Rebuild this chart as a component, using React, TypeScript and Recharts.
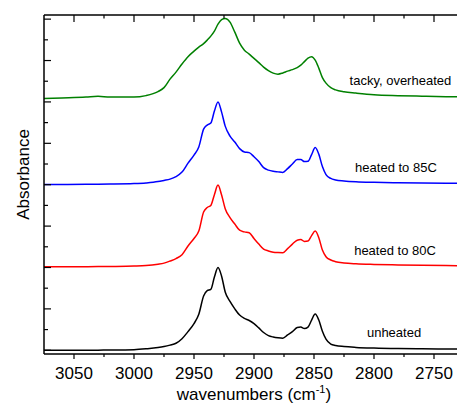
import React from 'react';
import { LineChart, Line, XAxis, YAxis, ReferenceDot } from 'recharts';

const wavenumbers = [
  3075, 3060, 3040, 3030, 3020, 3000, 2990, 2980, 2975, 2970, 2965, 2960, 2955, 2950,
  2946, 2942, 2939, 2936, 2933, 2930, 2927, 2924, 2920, 2916, 2912, 2908, 2904, 2900,
  2896, 2892, 2888, 2884, 2880, 2876, 2872, 2868, 2864, 2861, 2858, 2855, 2852, 2849,
  2846, 2843, 2840, 2836, 2832, 2825, 2815, 2800, 2780, 2760, 2740, 2725,
];

const unheated = [
  0.0, 0.0, 0.0, 0.003, 0.005, 0.015, 0.035, 0.065, 0.09, 0.125, 0.17, 0.28, 0.45, 0.645,
  0.87, 1.31, 1.44, 1.47, 1.77, 2.0, 1.79, 1.41, 1.18, 1.0, 0.85, 0.77, 0.72, 0.645,
  0.54, 0.43, 0.355, 0.32, 0.3, 0.29, 0.37, 0.45, 0.55, 0.56, 0.525, 0.56, 0.73, 0.875,
  0.73, 0.46, 0.27, 0.15, 0.115, 0.09, 0.07, 0.053, 0.04, 0.034, 0.03, 0.027,
];

const heated80 = [
  2.015, 2.017, 2.02, 2.022, 2.025, 2.034, 2.046, 2.08, 2.106, 2.155, 2.215, 2.31, 2.52, 2.7,
  2.88, 3.34, 3.45, 3.5, 3.76, 3.99, 3.75, 3.42, 3.205, 3.05, 2.9, 2.86, 2.84, 2.7,
  2.565, 2.445, 2.4, 2.37, 2.36, 2.357, 2.455, 2.565, 2.66, 2.675, 2.63, 2.64, 2.77, 2.88,
  2.72, 2.42, 2.26, 2.18, 2.14, 2.11, 2.09, 2.075, 2.063, 2.053, 2.046, 2.044,
];

const heated85 = [
  4.005, 4.007, 4.01, 4.012, 4.015, 4.027, 4.043, 4.075, 4.104, 4.135, 4.196, 4.304, 4.52, 4.715,
  4.91, 5.343, 5.44, 5.488, 5.778, 6.0, 5.754, 5.415, 5.174, 5.03, 4.872, 4.792, 4.775, 4.674,
  4.558, 4.413, 4.353, 4.324, 4.31, 4.297, 4.39, 4.5, 4.606, 4.606, 4.558, 4.565, 4.727, 4.896,
  4.739, 4.437, 4.244, 4.152, 4.116, 4.092, 4.072, 4.058, 4.048, 4.041, 4.036, 4.034,
];

const tackyOverheated = [
  6.085, 6.097, 6.116, 6.135, 6.116, 6.116, 6.152, 6.249, 6.345, 6.55, 6.72, 6.918, 7.094, 7.227,
  7.324, 7.408, 7.493, 7.589, 7.71, 7.88, 7.988, 8.017, 7.928, 7.686, 7.42, 7.251, 7.155, 7.051,
  6.95, 6.841, 6.756, 6.696, 6.671, 6.7, 6.744, 6.78, 6.829, 6.889, 6.973, 7.058, 7.094, 7.01,
  6.816, 6.587, 6.454, 6.345, 6.29, 6.244, 6.213, 6.174, 6.152, 6.138, 6.126, 6.121,
];

const xMajorTicks = [2750, 2800, 2850, 2900, 2950, 3000, 3050];
const xMinorTicks = [2775, 2825, 2875, 2925, 2975, 3025];
const yMajorTicks = [0, 1, 2, 3, 4, 5, 6, 7, 8];
const yMinorTicks = [0.5, 1.5, 2.5, 3.5, 4.5, 5.5, 6.5, 7.5];

const annotations = [
  { label: 'tacky, overheated', x: 2778, y: 6.53 },
  { label: 'heated to 85C', x: 2781.7, y: 4.43 },
  { label: 'heated to 80C', x: 2782.5, y: 2.42 },
  { label: 'unheated', x: 2783.3, y: 0.44 },
];

const data = wavenumbers.map((wn, i) => ({
  wn,
  unheated: unheated[i],
  heated80: heated80[i],
  heated85: heated85[i],
  tacky: tackyOverheated[i],
}));

const FONT = '"Liberation Sans", Arial, Helvetica, sans-serif';
const xTicks = [...xMajorTicks, ...xMinorTicks].sort((a, b) => a - b);
const yTicks = [...yMajorTicks, ...yMinorTicks].sort((a, b) => a - b);

const BottomTick = (props: any) => {
  const { x, y, payload } = props;
  const major = xMajorTicks.includes(payload.value);
  return (
    <g>
      <line x1={x} x2={x} y1={y} y2={y + (major ? 5 : 3)} stroke="#000" strokeWidth={1.2} />
      {major && (
        <text x={x} y={y + 25} textAnchor="middle" fontSize={17} fontFamily={FONT} fill="#000">
          {payload.value}
        </text>
      )}
    </g>
  );
};

const TopTick = (props: any) => {
  const { x, y, payload } = props;
  const major = xMajorTicks.includes(payload.value);
  return <line x1={x} x2={x} y1={y} y2={y + (major ? 7 : 3.5)} stroke="#000" strokeWidth={1.2} />;
};

const LeftTick = (props: any) => {
  const { x, y, payload } = props;
  const major = yMajorTicks.includes(payload.value);
  return <line x1={x} x2={x + (major ? 7 : 4)} y1={y} y2={y} stroke="#000" strokeWidth={1.2} />;
};

const YLabel = (props: any) => {
  const vb = props.viewBox;
  const cx = vb.x + 23;
  const cy = vb.y + vb.height / 2 - 10;
  return (
    <text
      x={cx}
      y={cy}
      transform={`rotate(-90 ${cx} ${cy})`}
      textAnchor="middle"
      dominantBaseline="central"
      fontSize={17}
      fontFamily={FONT}
      fill="#000"
    >
      Absorbance
    </text>
  );
};

const XLabel = (props: any) => {
  const vb = props.viewBox;
  const cx = vb.x + vb.width / 2;
  const cy = vb.y + 46;
  return (
    <text x={cx} y={cy} textAnchor="middle" fontSize={17} fontFamily={FONT} fill="#000">
      wavenumbers (cm
      <tspan dy={-7} fontSize={11}>-1</tspan>
      <tspan dy={7}>)</tspan>
    </text>
  );
};

const axisLine = { stroke: '#000', strokeWidth: 1.5 };

export default function App() {
  return (
    <div style={{ position: 'fixed', left: 0, top: 0, width: 457, height: 405, overflow: 'hidden', background: '#fff' }}>
      <LineChart width={464} height={405} data={data} margin={{ top: 0, right: 0, bottom: 0, left: 0 }} style={{ fontFamily: FONT }}>
        <XAxis
          xAxisId="bottom"
          dataKey="wn"
          type="number"
          domain={[2725, 3075]}
          allowDataOverflow
          reversed
          ticks={xTicks}
          interval={0}
          tick={BottomTick}
          tickLine={false}
          tickSize={0}
          tickMargin={0}
          axisLine={axisLine}
          height={51}
          label={XLabel}
        />
        <XAxis
          xAxisId="top"
          orientation="top"
          dataKey="wn"
          type="number"
          domain={[2725, 3075]}
          allowDataOverflow
          reversed
          ticks={xTicks}
          interval={0}
          tick={TopTick}
          tickLine={false}
          tickSize={0}
          tickMargin={0}
          axisLine={axisLine}
          height={15}
        />
        <YAxis
          yAxisId="left"
          type="number"
          domain={[-0.09, 8.1]}
          allowDataOverflow
          ticks={yTicks}
          interval={0}
          tick={LeftTick}
          tickLine={false}
          tickSize={0}
          tickMargin={0}
          axisLine={axisLine}
          width={44}
          label={YLabel}
        />
        <Line xAxisId="bottom" yAxisId="left" type="monotone" dataKey="unheated" stroke="#000000" strokeWidth={1.5} dot={false} isAnimationActive={false} />
        <Line xAxisId="bottom" yAxisId="left" type="monotone" dataKey="heated80" stroke="#ff0000" strokeWidth={1.5} dot={false} isAnimationActive={false} />
        <Line xAxisId="bottom" yAxisId="left" type="monotone" dataKey="heated85" stroke="#0000ff" strokeWidth={1.5} dot={false} isAnimationActive={false} />
        <Line xAxisId="top" yAxisId="left" type="monotone" dataKey="tacky" stroke="#008000" strokeWidth={1.5} dot={false} isAnimationActive={false} />
        {annotations.map((a) => (
          <ReferenceDot
            key={a.label}
            xAxisId="bottom"
            yAxisId="left"
            x={a.x}
            y={a.y}
            r={1}
            fill="none"
            stroke="none"
            label={{ value: a.label, position: 'center', fontSize: 13, fill: '#000', fontFamily: FONT }}
          />
        ))}
      </LineChart>
    </div>
  );
}
